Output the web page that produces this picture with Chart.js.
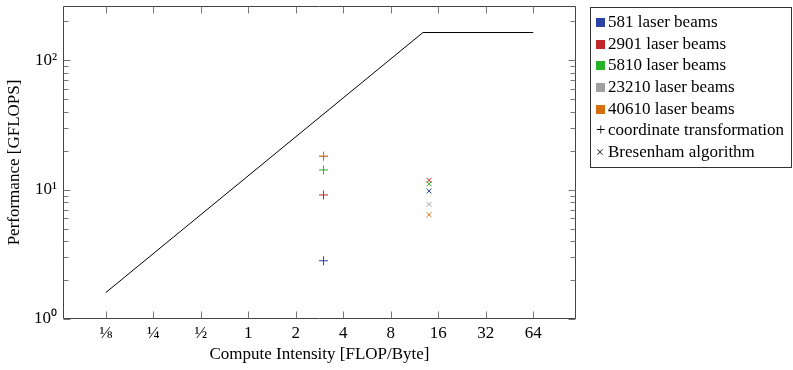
<!DOCTYPE html>
<html><head><meta charset="utf-8">
<script src="https://cdn.jsdelivr.net/npm/chart.js@4/dist/chart.umd.min.js"></script>
<style>
body{margin:0;background:#fff;}
#wrap{position:relative;width:793px;height:370px;}
#legend{position:absolute;left:590px;top:7px;width:202px;height:161px;border:1px solid #333;box-sizing:border-box;font-family:'Liberation Serif',serif;font-size:17px;padding-top:3px;color:#000;}
.row{height:21.7px;line-height:21.7px;white-space:nowrap;padding-left:5px;}
.sw{display:inline-block;width:9px;height:9px;margin-right:3px;vertical-align:0px;}
.mk{display:inline-block;width:12px;text-align:left;}
</style></head>
<body><div id="wrap"><canvas id="c" width="793" height="370"></canvas><div id="legend"></div></div>
<script>
const seriesNames = ['581 laser beams','2901 laser beams','5810 laser beams','23210 laser beams','40610 laser beams'];
const seriesColors = ['#2b42a6','#c0282b','#27b127','#a0a0a0','#d6700f'];
const coordIntensity = 3;
const coordPerf = [2.82, 9.1, 14.2, 18.0, 18.2];
const bresIntensity = 14;
const bresPerf = [9.77, 11.8, 11.1, 7.7, 6.4];
const roofX = [0.125, 12.8, 64];
const roofY = [1.6, 164, 164];
const xTickValues = [1/8,1/4,1/2,1,2,4,8,16,32,64];
const xTickLabels = ['⅛','¼','½','1','2','4','8','16','32','64'];
const yTickValues = [1,10,100];
const yTickLabels = ['10⁰','10¹','10²'];
const markerNames = ['coordinate transformation','Bresenham algorithm'];
const markerSymbols = ['+','×'];

const FONT = 'Liberation Serif';
const datasets = [];
datasets.push({
  type:'line', data: roofX.map((x,i)=>({x, y: roofY[i]})),
  borderColor:'#000', borderWidth:1, pointRadius:0, showLine:true, fill:false, order:1
});
seriesNames.forEach((n,i)=>{
  datasets.push({
    label:n+' (coord)', data:[{x:coordIntensity, y:coordPerf[i]}],
    pointStyle:'cross', pointRadius:4.5, borderColor:seriesColors[i], backgroundColor:seriesColors[i], borderWidth:1, order:-i
  });
  datasets.push({
    label:n+' (bres)', data:[{x:bresIntensity, y:bresPerf[i]}],
    pointStyle:'crossRot', pointRadius:3.5, borderColor:seriesColors[i], backgroundColor:seriesColors[i], borderWidth:1, order:-i
  });
});

const frame = {
  id:'frame',
  afterDraw(chart){
    const ctx = chart.ctx;
    const {left,right,top,bottom} = chart.chartArea;
    const xs = chart.scales.x, ys = chart.scales.y;
    ctx.save();
    ctx.strokeStyle = '#444';
    ctx.lineWidth = 1;
    ctx.beginPath();
    const L = left+0.5, R = right-0.5, T = top+0.5, B = bottom-0.5;
    ctx.moveTo(L,T); ctx.lineTo(R,T); ctx.lineTo(R,B); ctx.lineTo(L,B); ctx.closePath();
    ctx.stroke();
    ctx.strokeStyle = '#777';
    ctx.beginPath();
    xTickValues.forEach(v=>{
      const px = Math.round(xs.getPixelForValue(v))+0.5;
      ctx.moveTo(px,B); ctx.lineTo(px,B-7);
      ctx.moveTo(px,T); ctx.lineTo(px,T+7);
    });
    const minors = [];
    for (let d=1; d<=100; d*=10) for (let k=2;k<=9;k++) minors.push(k*d);
    yTickValues.forEach(v=>{
      const py = Math.round(ys.getPixelForValue(v))+0.5;
      ctx.moveTo(L,py); ctx.lineTo(L+7,py);
      ctx.moveTo(R,py); ctx.lineTo(R-7,py);
    });
    minors.forEach(v=>{
      if (v > ys.max) return;
      const py = Math.round(ys.getPixelForValue(v))+0.5;
      ctx.moveTo(L,py); ctx.lineTo(L+5,py);
      ctx.moveTo(R,py); ctx.lineTo(R-5,py);
    });
    ctx.stroke();
    ctx.restore();
  }
};

function zeroPad(s){ s.paddingTop=0; s.paddingBottom=0; s.paddingLeft=0; s.paddingRight=0; }

new Chart(document.getElementById('c'), {
  type:'scatter',
  data:{datasets},
  options:{
    responsive:false, animation:false,
    layout:{padding:{top:6,right:217,left:0,bottom:0}},
    plugins:{legend:{display:false}, tooltip:{enabled:false}},
    scales:{
      x:{
        type:'logarithmic', bounds:'data', min:Math.pow(2,-3.9), max:Math.pow(2,6.9),
        afterBuildTicks:s=>{ s.ticks = xTickValues.map(v=>({value:v})); },
        afterFit:s=>{ s.height = 51; zeroPad(s); },
        grid:{display:false, drawTicks:false}, border:{display:false},
        ticks:{autoSkip:false, maxRotation:0, minRotation:0, padding:4, color:'#000',
          font:{family:FONT, size:17}, callback:(v,i)=>xTickLabels[i]},
        title:{display:true, text:'Compute Intensity [FLOP/Byte]', color:'#000',
          font:{family:FONT, size:17}, padding:{top:0, bottom:5}}
      },
      y:{
        type:'logarithmic', bounds:'data', min:1, max:263,
        afterBuildTicks:s=>{ s.ticks = yTickValues.map(v=>({value:v})); },
        afterFit:s=>{ s.width = 63; zeroPad(s); },
        grid:{display:false, drawTicks:false}, border:{display:false},
        ticks:{autoSkip:false, padding:6, color:'#000',
          font:{family:FONT, size:17}, callback:(v,i)=>yTickLabels[i]},
        title:{display:true, text:'Performance [GFLOPS]', color:'#000',
          font:{family:FONT, size:17}, padding:{top:4, bottom:0}}
      }
    }
  },
  plugins:[frame]
});

const leg = document.getElementById('legend');
seriesNames.forEach((n,i)=>{
  const r = document.createElement('div'); r.className='row';
  const s = document.createElement('span'); s.className='sw'; s.style.background = seriesColors[i];
  r.appendChild(s); r.appendChild(document.createTextNode(n)); leg.appendChild(r);
});
markerNames.forEach((n,i)=>{
  const r = document.createElement('div'); r.className='row';
  const s = document.createElement('span'); s.className='mk'; s.textContent = markerSymbols[i];
  if (i===1) s.style.fontSize = '14px';
  r.appendChild(s); r.appendChild(document.createTextNode(n)); leg.appendChild(r);
});
</script>
</body></html>
